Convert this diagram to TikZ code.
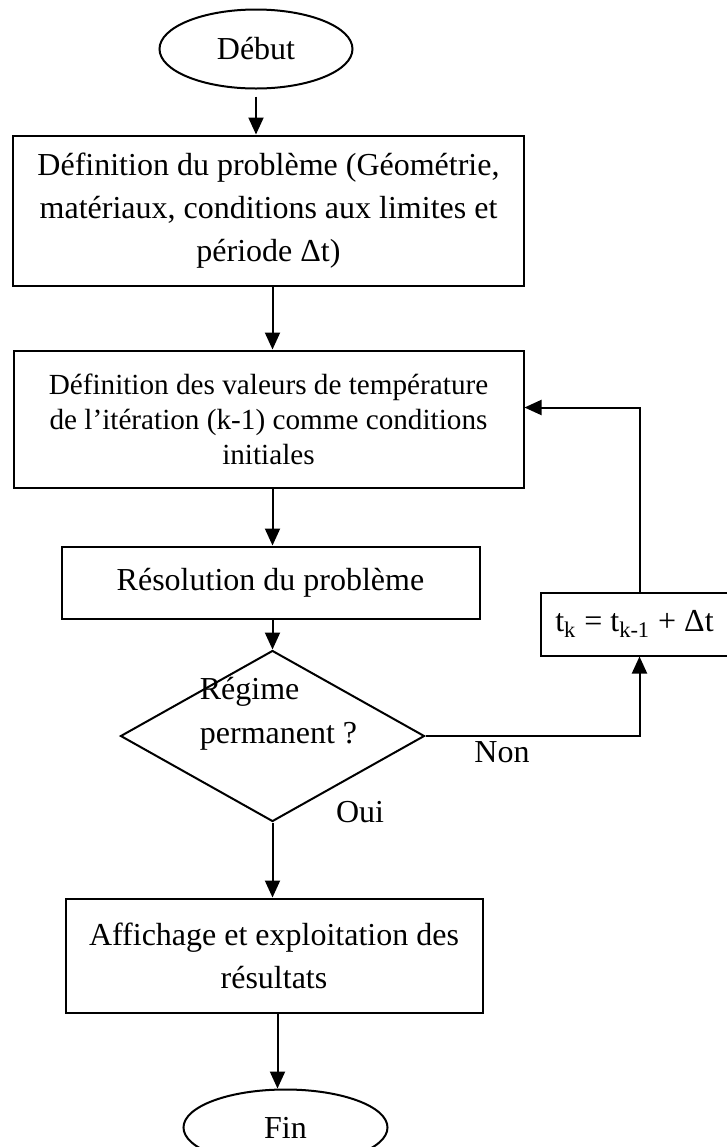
\documentclass[tikz,border=0pt]{standalone}
\usepackage{fontspec}
\setmainfont{Liberation Serif}
\usepackage{tikz}
\usetikzlibrary{shapes.geometric, arrows.meta, positioning}
\tikzset{
  etape/.style={
    draw,
    rectangle,
    line width=1pt,
    inner sep=0pt,
    align=center,
    font=\fontsize{16}{21.5}\selectfont,
  },
  terminal/.style={
    draw,
    ellipse,
    line width=1pt,
    inner sep=0pt,
    font=\fontsize{16}{20}\selectfont,
  },
  decision/.style={
    draw,
    diamond,
    line width=1pt,
    inner sep=0pt,
  },
  texte/.style={
    inner sep=0pt,
    font=\fontsize{16}{22}\selectfont,
  },
  arrow/.style={
    -{Triangle[length=8.5pt,width=7.5pt]},
    line width=1pt
  }
}

\begin{document}
\begin{tikzpicture}[x=1pt,y=1pt]

\useasboundingbox (0,0) rectangle (363.5,-573.5);

% --- Début ---
\node[terminal, minimum width=96.5pt, minimum height=39.5pt] (debut) at (128,-24.5) {Début};

% --- Définition du problème ---
\node[etape, minimum width=255.5pt, minimum height=75pt,
      below=22.5pt of debut, xshift=6.25pt] (prob)
{Définition du problème (Géométrie,\\ matériaux, conditions aux limites et\\ période Δt)};

% --- Conditions initiales ---
\node[etape, minimum width=255pt, minimum height=68.5pt,
      font=\fontsize{14.6}{17.5}\selectfont,
      below=31.5pt of prob] (init)
{Définition des valeurs de température\\ de l’itération (k-1) comme conditions\\ initiales};

% --- Résolution ---
\node[etape, minimum width=209pt, minimum height=36pt,
      below=28.5pt of init, xshift=1pt] (res) {Résolution du problème};

% --- Test régime permanent ---
\node[decision, minimum width=152pt, minimum height=85.5pt,
      below=15pt of res, xshift=1pt] (regime) {};
\node[texte, align=left, anchor=west] (question)
      at ([xshift=-36.5pt,yshift=11.25pt]regime.center) {Régime\\ permanent ?};

% --- Affichage ---
\node[etape, minimum width=208.5pt, minimum height=57pt,
      below=37.5pt of regime, xshift=0.75pt] (aff)
{Affichage et exploitation des\\ résultats};

% --- Fin ---
\node[terminal, minimum width=102pt, minimum height=38pt,
      below=37.5pt of aff, xshift=5.75pt] (fin) {Fin};

% --- Pas de temps ---
\node[etape, minimum width=94pt, minimum height=31.5pt,
      right=29.5pt of res, yshift=-20.75pt] (incr)
{t\textsubscript{k} = t\textsubscript{k-1} + Δt};

% --- Flèches ---
\draw[arrow, shorten <=3.5pt] (debut.south) -- (debut.south |- prob.north);
\draw[arrow] (prob.south -| regime) -- (init.north -| regime);
\draw[arrow] (init.south -| regime) -- (res.north -| regime);
\draw[arrow] (res.south -| regime) -- (regime.north);
\draw[arrow] (regime.south) -- (aff.north -| regime);
\draw[arrow] ([xshift=1.75pt]aff.south) -- ([xshift=1.75pt]aff.south |- fin.north);

% --- Boucle ---
\coordinate (boucle) at ([xshift=2.5pt]incr.south);
\draw[arrow] (regime.east) -| (boucle);
\draw[arrow] ([xshift=2.5pt]incr.north) |- ([yshift=5.75pt]init.east);

% --- Labels ---
\node[texte] (non) at (251,-376) {Non};
\node[texte] (oui) at (180,-406) {Oui};

\end{tikzpicture}
\end{document}
